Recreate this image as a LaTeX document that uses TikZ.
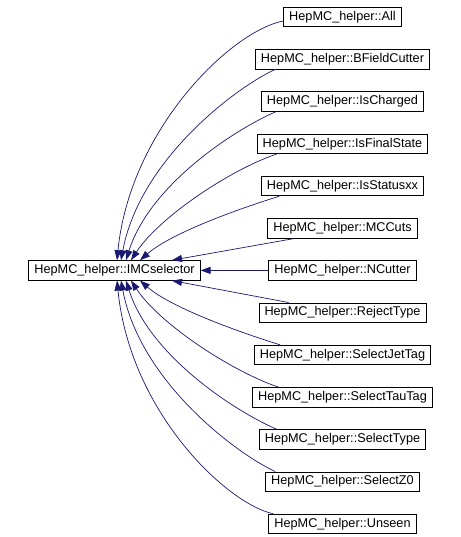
\documentclass[tikz,border=0pt]{standalone}
\usepackage{fontspec}
\setmainfont{Liberation Sans}
\usepackage{xcolor}
\usepackage{tikz}
\usetikzlibrary{arrows.meta,positioning}

\definecolor{edgeblue}{HTML}{191970}

\begin{document}
\begin{tikzpicture}[
  x=1pt, y=-1pt,
  box/.style={draw, fill=white, line width=0.9pt, inner xsep=5.5pt, inner ysep=0pt, minimum height=19.5pt, font=\fontsize{12.7pt}{15pt}\selectfont},
  edg/.style={-{Triangle[length=10pt,width=7pt]}, line width=0.7pt, edgeblue}
]
\useasboundingbox (0,0) rectangle (460,537);

\node[box] (imc) at (114.5,270.4) {HepMC\_helper::IMCselector};

\node[box] (all) at (342.5,17) {HepMC\_helper::All};
\node[box] (bfc) at (342.5,59.3) {HepMC\_helper::BFieldCutter};
\node[box] (ich) at (342.5,101.5) {HepMC\_helper::IsCharged};
\node[box] (ifs) at (342.5,143.8) {HepMC\_helper::IsFinalState};
\node[box] (iss) at (342.5,186.1) {HepMC\_helper::IsStatusxx};
\node[box] (mcc) at (342.5,228.3) {HepMC\_helper::MCCuts};
\node[box] (ncu) at (342.5,270.4) {HepMC\_helper::NCutter};
\node[box] (rej) at (342.5,312.7) {HepMC\_helper::RejectType};
\node[box] (sjt) at (342.5,355) {HepMC\_helper::SelectJetTag};
\node[box] (stt) at (342.5,397.2) {HepMC\_helper::SelectTauTag};
\node[box] (sty) at (342.5,439.5) {HepMC\_helper::SelectType};
\node[box] (sz0) at (342.5,481.7) {HepMC\_helper::SelectZ0};
\node[box] (uns) at (342.5,524) {HepMC\_helper::Unseen};

% upper half
\draw[edg] ([yshift=-4pt]all.west) .. controls +(-52,10) and +(13,-131) .. ([xshift=2.5pt]imc.north);
\draw[edg] ([xshift=20pt]bfc.south west) .. controls +(-38.5,17.6) and +(19,-101) .. ([xshift=6.5pt]imc.north);
\draw[edg] ([xshift=15pt]ich.south west) .. controls +(-40,17) and +(24,-76) .. ([xshift=11.5pt]imc.north);
\draw[edg] ([xshift=20pt]ifs.south west) .. controls +(-45,15) and +(29,-44) .. ([xshift=16.5pt]imc.north);
\draw[edg] ([xshift=18pt]iss.south west) .. controls +(-48,15) and +(30,-26) .. ([xshift=25.5pt]imc.north);
\draw[edg] ([xshift=27pt]mcc.south west) -- ([xshift=57.5pt]imc.north);
\draw[edg] (ncu.west) -- (imc.east);
% lower half
\draw[edg] ([xshift=30pt]rej.north west) -- ([xshift=57.5pt]imc.south);
\draw[edg] ([xshift=26pt]sjt.north west) .. controls +(-48,-15) and +(30,26) .. ([xshift=25.5pt]imc.south);
\draw[edg] ([xshift=26pt]stt.north west) .. controls +(-45,-15) and +(29,44) .. ([xshift=16.5pt]imc.south);
\draw[edg] ([xshift=18pt]sty.north west) .. controls +(-40,-17) and +(24,76) .. ([xshift=11.5pt]imc.south);
\draw[edg] ([xshift=10pt]sz0.north west) .. controls +(-38.5,-17.6) and +(19,101) .. ([xshift=6.5pt]imc.south);
\draw[edg] ([xshift=5pt]uns.north west) .. controls +(-47,-10) and +(13,131) .. ([xshift=2.5pt]imc.south);

\end{tikzpicture}
\end{document}
